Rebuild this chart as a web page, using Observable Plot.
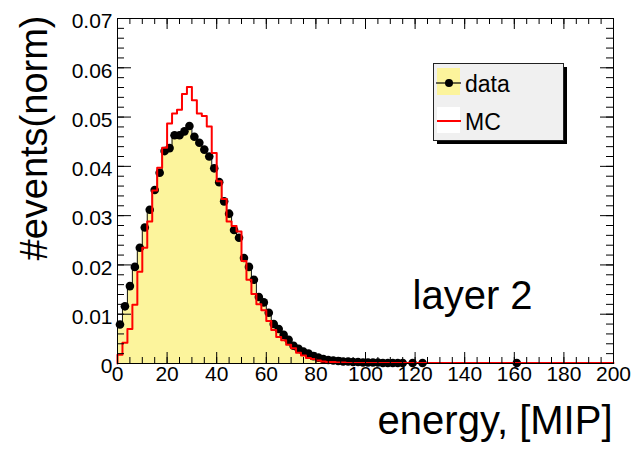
<!DOCTYPE html>
<html><head><meta charset="utf-8">
<script src="https://cdn.jsdelivr.net/npm/d3@7"></script>
<script src="https://cdn.jsdelivr.net/npm/@observablehq/plot@0.6"></script>
<style>
html,body{margin:0;padding:0;background:#fff;}
#chart{position:relative;width:636px;height:454px;font-family:"Liberation Sans",Arial,Helvetica,sans-serif;}
#chart svg{display:block;}
#legend{position:absolute;left:0;top:0;pointer-events:none;}
</style></head>
<body><div id="chart"></div>
<script>
// ---- data (energy bins of width 2 MIP, 0..200) ----
const binWidth = 2;
const dataValues = [
  0.0079,0.0116,0.0157,0.0196,0.0235,0.0276,0.0312,0.0352,0.0387,0.0431,
  0.0437,0.0463,0.0463,0.0471,0.0482,0.0460,0.0448,0.0434,0.0420,0.0396,
  0.0368,0.0329,0.0304,0.0271,0.0255,0.0214,0.0196,0.0170,0.0135,0.0124,
  0.0103,0.0080,0.0070,0.0058,0.0048,0.0036,0.0030,0.0024,0.0020,0.0015,
  0.0012,0.0009,0.0007,0.0006,0.0005,0.0004,0.0004,0.0003,0.0003,0.0002,
  0.0002,0.0002,0.0002,0.0001,0.0001,0.0001,0.0001,0.0001,0,0.0001,
  0,0.0001,0,0,0,0,0,0,0,0,
  0,0,0,0,0,0,0,0,0,0,
  0.0001,0,0,0,0,0,0,0,0,0,
  0,0,0,0,0,0,0,0,0,0
];
const mcValues = [
  0.0018,0.0042,0.0070,0.0119,0.0186,0.0235,0.0288,0.0351,0.0397,0.0438,
  0.0487,0.0507,0.0515,0.0547,0.0561,0.0534,0.0507,0.0502,0.0481,0.0427,
  0.0370,0.0334,0.0288,0.0279,0.0268,0.0208,0.0170,0.0141,0.0120,0.0108,
  0.0086,0.0068,0.0054,0.0047,0.0038,0.0031,0.0022,0.0016,0.0011,0.0009,
  0.0006,0.0004,0.0003,0.0003,0.0002,0.0002,0.0001,0.0001,0.0001,0.0001,
  0.0001,0.0001,0.0001,0.0001,0.0001,0.0001,0.0001,0.0001,0.0001,0.0001,
  0.0001,0.0001,0.0001,0.0001,0.0001,0.0001,0.0001,0.0001,0.0001,0.0001,
  0.0001,0.0001,0.0001,0.0001,0.0001,0.0001,0.0001,0.0001,0.0001,0.0001,
  0.0001,0.0001,0.0001,0.0001,0.0001,0.0001,0.0001,0.0001,0.0001,0.0001,
  0.0001,0.0001,0.0001,0.0001,0.0001,0.0001,0.0001,0.0001,0.0001,0.0001
];
const xTicks = [0,20,40,60,80,100,120,140,160,180,200];
const yTicks = [0,0.01,0.02,0.03,0.04,0.05,0.06,0.07];
const yTickLabels = ["0","0.01","0.02","0.03","0.04","0.05","0.06","0.07"];
const xLabel = "energy, [MIP]";
const yLabel = "#events(norm)";
const annotation = "layer 2";
const seriesNames = ["data","MC"];

// ---- derived tables ----
const xMinor = d3.range(0, 200.001, 5);
const yMinor = d3.range(0, 0.07001, 0.002);
const dataBins = dataValues.map((v,i)=>({x1:i*binWidth, x2:(i+1)*binWidth, xc:(i+0.5)*binWidth, y:v}));
const step = vals => [{x:0,y:0}].concat(vals.flatMap((v,i)=>[{x:i*binWidth,y:v},{x:(i+1)*binWidth,y:v}]));
const dataStep = step(dataValues);
const mcStep = step(mcValues);
const dataPts = dataBins.filter(d=>d.y>0);

const W=636,H=454,mL=117,mR=23,mT=18,mB=91;
const pw=W-mL-mR, ph=H-mT-mB;
const yellow="#fcf49c", red="#ff0000";

const chart = Plot.plot({
  width:W, height:H, marginLeft:mL, marginRight:mR, marginTop:mT, marginBottom:mB,
  x:{domain:[0,200]}, y:{domain:[0,0.07]},
  style:{fontFamily:"'Liberation Sans', Arial, Helvetica, sans-serif", fontSize:"21px", color:"black", background:"white", overflow:"visible"},
  marks:[
    Plot.area(dataStep,{x1:"x", y1:0, y2:"y", fill:yellow}),
    Plot.line(dataStep,{x:"x", y:"y", stroke:"#111", strokeWidth:1}),
    Plot.dot(dataPts,{x:"xc", y:"y", r:4.3, fill:"black", stroke:null}),
    Plot.line(mcStep,{x:"x", y:"y", stroke:red, strokeWidth:2}),
    Plot.tickY(yTicks,{y:d=>d, insetRight:pw-14, stroke:"black"}),
    Plot.tickY(yMinor,{y:d=>d, insetRight:pw-7, stroke:"black"}),
    Plot.tickY(yTicks,{y:d=>d, insetLeft:pw-13, stroke:"black"}),
    Plot.tickY(yMinor,{y:d=>d, insetLeft:pw-7, stroke:"black"}),
    Plot.tickX(xTicks,{x:d=>d, insetTop:ph-11, stroke:"black"}),
    Plot.tickX(xMinor,{x:d=>d, insetTop:ph-6, stroke:"black"}),
    Plot.tickX(xTicks,{x:d=>d, insetBottom:ph-11, stroke:"black"}),
    Plot.tickX(xMinor,{x:d=>d, insetBottom:ph-6, stroke:"black"}),
    Plot.frame({stroke:"black"}),
    Plot.axisY(yTicks,{tickSize:0, tickPadding:5, tickFormat:(d)=>yTickLabels[yTicks.indexOf(d)], label:null, dy:3, fontSize:21}),
    Plot.axisX(xTicks,{tickSize:0, tickPadding:3, label:null, fontSize:21}),
    Plot.text([yLabel],{frameAnchor:"top-left", rotate:-90, textAnchor:"end", dx:-97, dy:-3, fontSize:38}),
    Plot.text([xLabel],{frameAnchor:"bottom-right", textAnchor:"end", dx:-1, dy:70, fontSize:40}),
    Plot.text([annotation],{frameAnchor:"bottom-left", textAnchor:"start", dx:295, dy:-55, fontSize:40})
  ]
});
const host = document.getElementById("chart");
host.appendChild(chart);

// ---- legend overlay ----
const ns="http://www.w3.org/2000/svg";
const lg=document.createElementNS(ns,"svg");
lg.setAttribute("id","legend"); lg.setAttribute("width",W); lg.setAttribute("height",H);
lg.innerHTML = `
  <rect x="437" y="67" width="130" height="77" fill="#000"/>
  <rect x="433.5" y="63.5" width="130" height="77" fill="#f0f0f0" stroke="#222" stroke-width="1"/>
  <rect x="437" y="68" width="23" height="27" fill="${yellow}"/>
  <line x1="436" x2="461" y1="83" y2="83" stroke="#000" stroke-width="1.2"/>
  <circle cx="449" cy="83" r="4" fill="#000"/>
  <text x="465" y="92" font-size="23" font-family="'Liberation Sans', Arial, sans-serif">${seriesNames[0]}</text>
  <rect x="437" y="107" width="23" height="26" fill="#fff"/>
  <line x1="437" x2="461" y1="121" y2="121" stroke="${red}" stroke-width="2"/>
  <text x="465" y="130" font-size="23" font-family="'Liberation Sans', Arial, sans-serif">${seriesNames[1]}</text>`;
host.appendChild(lg);
</script>
</body></html>
